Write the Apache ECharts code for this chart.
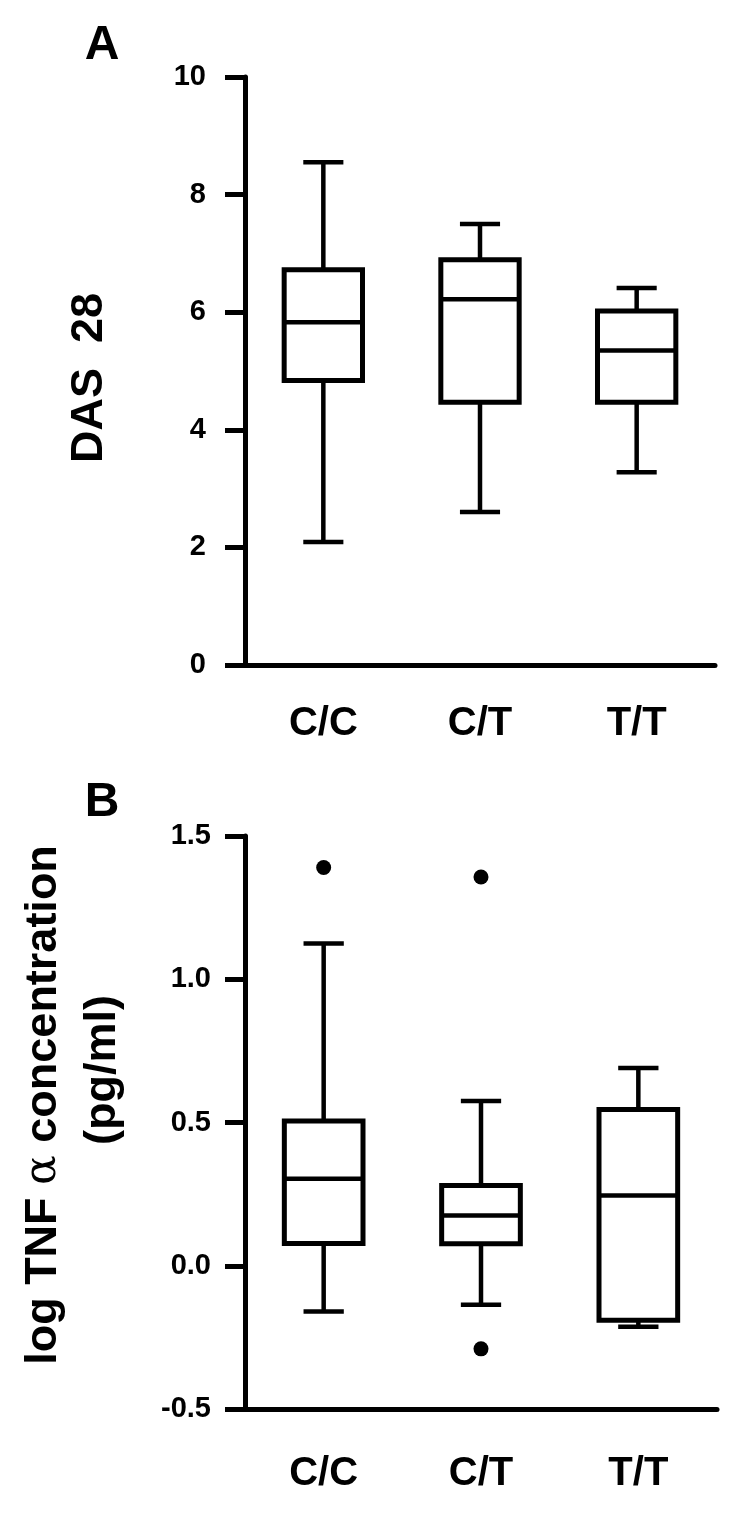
<!DOCTYPE html>
<html>
<head>
<meta charset="utf-8">
<script src="https://cdn.jsdelivr.net/npm/echarts@6/dist/echarts.min.js"></script>
<style>
html, body { margin: 0; padding: 0; background: #fff; }
#chart { width: 748px; height: 1514px; }
</style>
</head>
<body>
<div id="chart"></div>
<script>
const genotypes = ['C/C', 'C/T', 'T/T']

// panel A: DAS 28
const dasMin = [2.09, 2.60, 3.28]
const dasQ1 = [4.84, 4.47, 4.47]
const dasMedian = [5.83, 6.22, 5.35]
const dasQ3 = [6.72, 6.89, 6.02]
const dasMax = [8.55, 7.50, 6.41]

// panel B: log TNF alpha (pg/ml)
const tnfMin = [-0.16, -0.136, -0.213]
const tnfQ1 = [0.078, 0.077, -0.19]
const tnfMedian = [0.304, 0.175, 0.245]
const tnfQ3 = [0.505, 0.28, 0.545]
const tnfMax = [1.125, 0.575, 0.69]
const tnfOutliers = [[0, 1.39], [1, 1.357], [1, -0.29]]

const fontFamily = '"Liberation Sans", Arial, sans-serif'

function boxRows(mins, q1s, meds, q3s, maxs) {
    return genotypes.map((g, i) => [i, mins[i], q1s[i], meds[i], q3s[i], maxs[i]])
}

// box with short whisker caps (half the box width)
function renderBox(params, api) {
    const i = api.value(0)
    const x = api.coord([i, 0])[0]
    const yMin = api.coord([i, api.value(1)])[1]
    const yQ1 = api.coord([i, api.value(2)])[1]
    const yMed = api.coord([i, api.value(3)])[1]
    const yQ3 = api.coord([i, api.value(4)])[1]
    const yMax = api.coord([i, api.value(5)])[1]
    const band = api.size([1, 0])[0]
    const half = band * 0.25
    const cap = band * 0.128
    const line = (x1, y1, x2, y2) => ({
        type: 'line',
        shape: { x1, y1, x2, y2 },
        style: { stroke: '#000', lineWidth: 4.5 },
    })
    return {
        type: 'group',
        children: [
            line(x, yMax, x, yQ3),
            line(x, yQ1, x, yMin),
            line(x - cap, yMax, x + cap, yMax),
            line(x - cap, yMin, x + cap, yMin),
            {
                type: 'rect',
                shape: { x: x - half, y: yQ3, width: half * 2, height: yQ1 - yQ3 },
                style: { fill: '#fff', stroke: '#000', lineWidth: 5 },
            },
            line(x - half, yMed, x + half, yMed),
        ],
    }
}

function xAxisOf(gridIndex, margin) {
    return {
        type: 'category',
        gridIndex,
        data: genotypes,
        axisLine: { onZero: false, lineStyle: { color: '#000', width: 5, cap: 'round' } },
        axisTick: { alignWithLabel: true, length: 16, lineStyle: { color: '#000', width: 5 } },
        axisLabel: { margin, color: '#000', fontSize: 40, fontWeight: 'bold', fontFamily },
        splitLine: { show: false },
    }
}

function yAxisOf(gridIndex, min, max, interval, margin, digits) {
    return {
        type: 'value',
        gridIndex,
        min,
        max,
        interval,
        axisLine: { show: true, lineStyle: { color: '#000', width: 5, cap: 'round' } },
        axisTick: { show: true, length: 20, lineStyle: { color: '#000', width: 5 } },
        axisLabel: {
            margin,
            color: '#000',
            fontSize: 29,
            fontWeight: 'bold',
            fontFamily,
            formatter: (v) => v.toFixed(digits),
        },
        splitLine: { show: false },
    }
}

function label(text, x, y, size, rotation, rich) {
    return {
        type: 'text',
        x,
        y,
        rotation: rotation || 0,
        style: {
            text,
            fill: '#000',
            font: 'bold ' + size + 'px ' + fontFamily,
            align: 'center',
            verticalAlign: 'middle',
            textAlign: 'center',
            textVerticalAlign: 'middle',
            rich,
        },
    }
}

const tnfRich = {
    b: { fontSize: 45, fontWeight: 'bold', fontFamily, fill: '#000' },
    a: { fontSize: 44, fontWeight: 'normal', fontFamily: '"DejaVu Serif", serif', fill: '#000' },
}

const chart = echarts.init(document.getElementById('chart'))
chart.setOption({
    backgroundColor: '#fff',
    animation: false,
    grid: [
        { left: 245, right: 33, top: 77, height: 588, outerBoundsMode: 'none' },
        { left: 245, right: 31, top: 836, height: 573, outerBoundsMode: 'none' },
    ],
    xAxis: [xAxisOf(0, 39), xAxisOf(1, 45)],
    yAxis: [yAxisOf(0, 0, 10, 2, 39, 0), yAxisOf(1, -0.5, 1.5, 0.5, 34, 1)],
    graphic: [
        label('A', 102, 46, 48),
        label('B', 102, 803, 48),
        label('DAS  28', 90, 378, 45, Math.PI / 2),
        label('{b|log TNF }{a|\u03b1}{b| concentration}', 44, 1105, 45, Math.PI / 2, tnfRich),
        label('(pg/ml)', 103, 1070, 45, Math.PI / 2),
    ],
    series: [
        {
            type: 'custom',
            xAxisIndex: 0,
            yAxisIndex: 0,
            renderItem: renderBox,
            encode: { x: 0, y: [1, 2, 3, 4, 5] },
            data: boxRows(dasMin, dasQ1, dasMedian, dasQ3, dasMax),
        },
        {
            type: 'custom',
            xAxisIndex: 1,
            yAxisIndex: 1,
            renderItem: renderBox,
            encode: { x: 0, y: [1, 2, 3, 4, 5] },
            data: boxRows(tnfMin, tnfQ1, tnfMedian, tnfQ3, tnfMax),
        },
        {
            type: 'scatter',
            xAxisIndex: 1,
            yAxisIndex: 1,
            symbol: 'circle',
            symbolSize: 15,
            itemStyle: { color: '#000', opacity: 1 },
            data: tnfOutliers,
        },
    ],
})
</script>
</body>
</html>
